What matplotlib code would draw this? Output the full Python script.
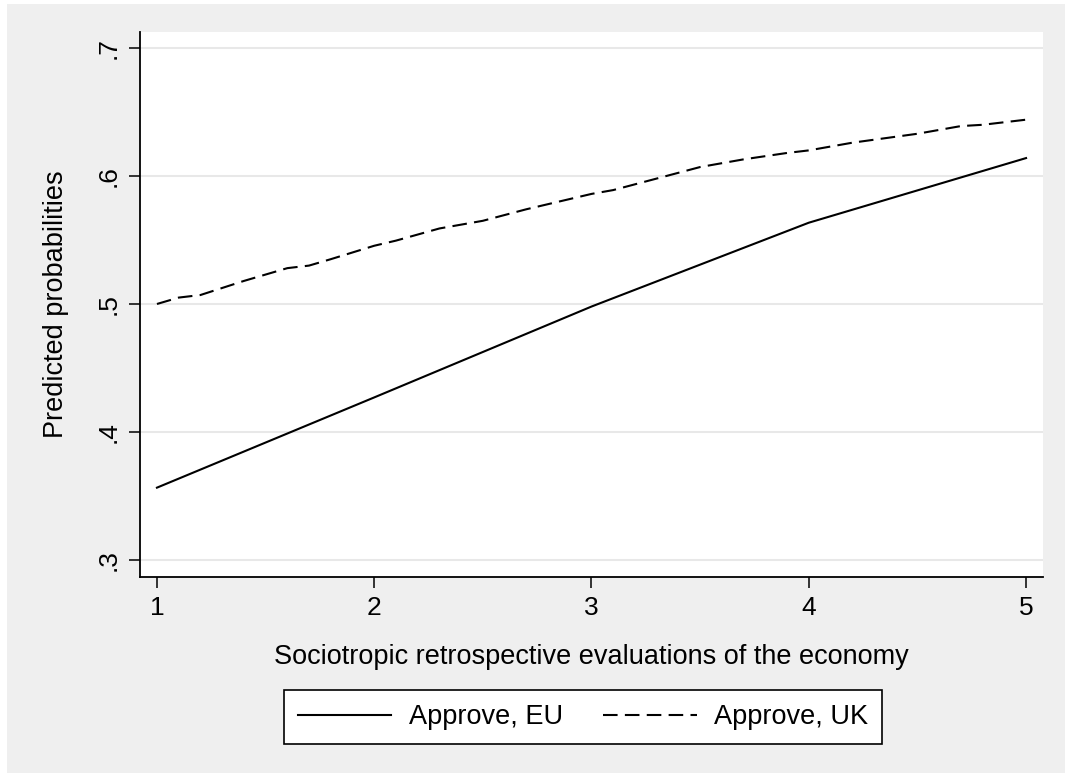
import numpy as np
import matplotlib
matplotlib.use("Agg")
import matplotlib.pyplot as plt
from matplotlib.patches import Rectangle

plt.rcParams['font.family'] = ['Liberation Sans', 'DejaVu Sans']

# predicted probabilities by sociotropic evaluation
eu_x = [1, 2, 3, 4, 5]
eu_prob = [0.3565, 0.427, 0.498, 0.5635, 0.614]

uk_x = [1.0, 1.1, 1.2, 1.4, 1.6, 1.7, 1.8, 2.0, 2.1, 2.3, 2.5, 2.7, 2.9,
        3.0, 3.1, 3.3, 3.5, 3.7, 3.9, 4.0, 4.2, 4.5, 4.7, 4.8, 5.0]
uk_prob = [0.500, 0.505, 0.507, 0.518, 0.528, 0.530, 0.535, 0.5455, 0.5495,
           0.559, 0.565, 0.574, 0.582, 0.586, 0.589, 0.598, 0.607, 0.613,
           0.618, 0.620, 0.626, 0.633, 0.639, 0.640, 0.644]

x_ticks = [1, 2, 3, 4, 5]
y_ticks = [0.3, 0.4, 0.5, 0.6, 0.7]
y_labels = ['.3', '.4', '.5', '.6', '.7']

bg = '#efefef'

fig = plt.figure(figsize=(10.65, 7.73), dpi=100, facecolor='white')
fig.patches.append(Rectangle((7 / 1065, 0), 1, 1 - 4 / 773,
                             transform=fig.transFigure, facecolor=bg,
                             edgecolor='none', zorder=-10))

ax = fig.add_axes([140 / 1065, 1 - 577 / 773, 903 / 1065, 545 / 773])
ax.set_facecolor('white')

ax.plot(eu_x, eu_prob, color='black', lw=1.5, label='Approve, EU')
ax.plot(uk_x, uk_prob, color='black', lw=1.5, dashes=(7, 3.5),
        label='Approve, UK')

ax.set_xlim(0.922, 5.078)
ax.set_ylim(0.2867, 0.7125)
ax.set_xticks(x_ticks)
ax.set_yticks(y_ticks)
ax.set_yticklabels(y_labels, rotation=90, va='center')

ax.grid(axis='y', color='#e8e8e8', lw=1.5)
ax.set_axisbelow(True)
for side in ['top', 'right']:
    ax.spines[side].set_visible(False)
for side in ['left', 'bottom']:
    ax.spines[side].set_linewidth(1.3)

ax.tick_params(axis='both', direction='out', length=8, width=1.1,
               labelsize=19, pad=6, colors='black')

ax.set_xlabel('Sociotropic retrospective evaluations of the economy',
              fontsize=19.5, labelpad=17)
ax.set_ylabel('Predicted probabilities', fontsize=19.5, labelpad=20)

leg = fig.legend(loc='center left', bbox_to_anchor=(284 / 1065, 1 - 717 / 773),
                 borderaxespad=0, ncol=2, fontsize=19.5, frameon=True,
                 fancybox=False, edgecolor='black', framealpha=1,
                 handlelength=3.45, columnspacing=1.5, borderpad=0.5,
                 handletextpad=0.65)
leg.get_frame().set_linewidth(1.2)

fig.savefig('out.png', dpi=100, facecolor=fig.get_facecolor())
